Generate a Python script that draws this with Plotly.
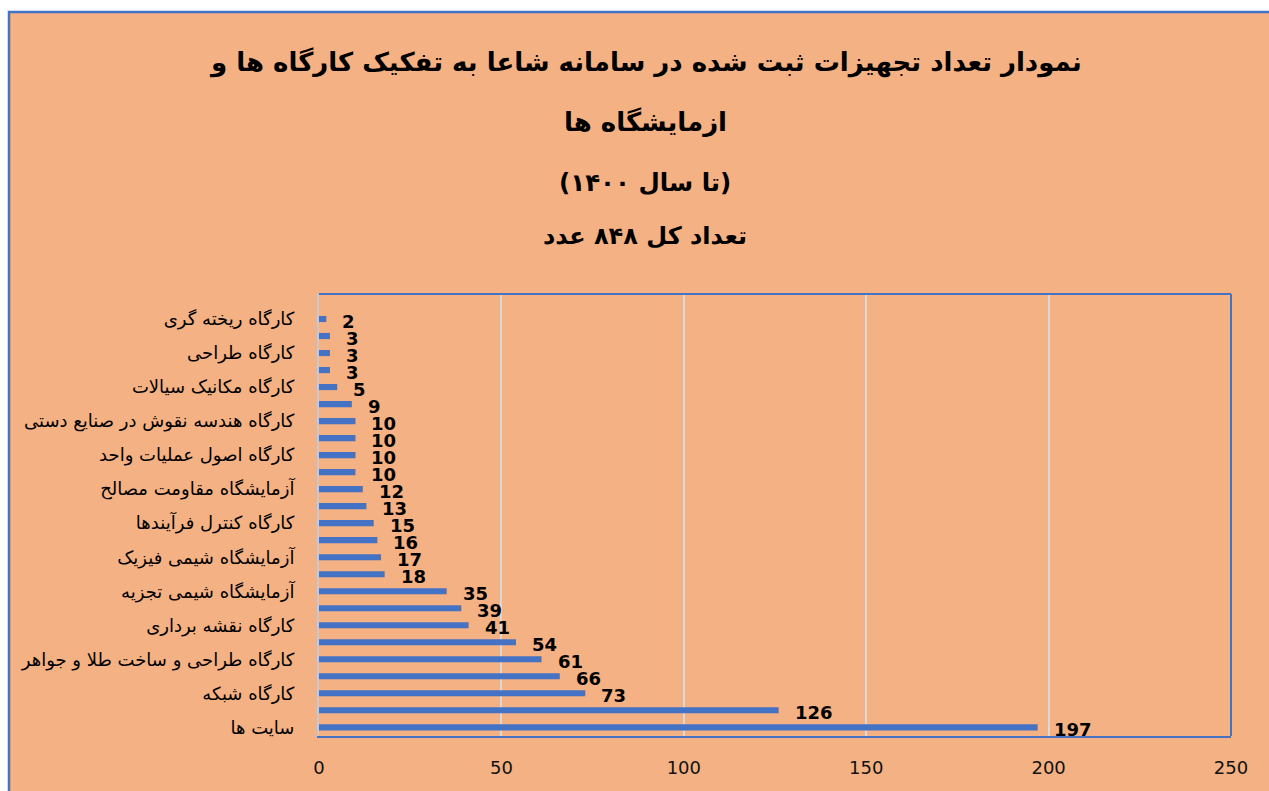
import plotly.graph_objects as go

# Data (bottom to top, as drawn); empty label = category whose tick label is skipped
labels = [
    "سایت ها", "", "کارگاه شبکه", "", "کارگاه طراحی و ساخت طلا و جواهر", "",
    "کارگاه نقشه برداری", "", "آزمایشگاه شیمی تجزیه", "", "آزمایشگاه شیمی فیزیک", "",
    "کارگاه کنترل فرآیندها", "", "آزمایشگاه مقاومت مصالح", "", "کارگاه اصول عملیات واحد", "",
    "کارگاه هندسه نقوش در صنایع دستی", "", "کارگاه مکانیک سیالات", "", "کارگاه طراحی", "",
    "کارگاه ریخته گری",
]
values = [197, 126, 73, 66, 61, 54, 41, 39, 35, 18, 17, 16, 15, 13, 12, 10, 10, 10, 10, 9, 5, 3, 3, 3, 2]
x_ticks = [0, 50, 100, 150, 200, 250]
title_lines = [
    "نمودار تعداد تجهیزات ثبت شده در سامانه شاعا به تفکیک کارگاه ها و",
    "ازمایشگاه ها",
    "(تا سال ۱۴۰۰)",
    "تعداد کل ۸۴۸ عدد",
]

positions = list(range(len(values)))
tick_pos = [p for p, l in zip(positions, labels) if l]
tick_txt = [l for l in labels if l]

W, H = 1269, 791
L, R, T, B = 319, 1269 - 1231, 294, 791 - 736
pw, ph = W - L - R, H - T - B

def px_x(x):  # page pixel -> paper
    return (x - L) / pw

def px_y(y):
    return (H - B - y) / ph

ORANGE = "#F4B183"
BLUE = "#4472C4"
GRID = "#D9D9D9"
FONT = "DejaVu Sans"

fig = go.Figure()
fig.add_trace(go.Bar(
    x=values, y=positions, orientation="h",
    marker=dict(color=BLUE, line=dict(width=0)),
    width=0.36, hoverinfo="x",
))

for v, p in zip(values, positions):
    fig.add_annotation(
        x=v, y=p, xref="x", yref="y", text=str(v), showarrow=False,
        xanchor="left", yanchor="middle", xshift=14, yshift=-2,
        font=dict(family=FONT, size=18, color="black", weight="bold"),
    )

title_y = [62, 122, 182, 236]
title_sizes = [26, 26, 24.5, 24]
for t, yy, s in zip(title_lines, title_y, title_sizes):
    fig.add_annotation(
        x=px_x(645), y=px_y(yy), xref="paper", yref="paper", text="<b>" + t + "</b>",
        showarrow=False, xanchor="center", yanchor="middle",
        font=dict(family=FONT, size=s, color="black"),
    )

# chart area background with blue border
fig.add_shape(type="rect", xref="paper", yref="paper",
              x0=px_x(9), x1=px_x(1300), y0=px_y(820), y1=px_y(12),
              fillcolor=ORANGE, line=dict(color=BLUE, width=2.5), layer="below")
# plot area border: top and right blue
fig.add_shape(type="line", xref="paper", yref="paper", x0=0, x1=1, y0=1, y1=1,
              line=dict(color=BLUE, width=2))
fig.add_shape(type="line", xref="paper", yref="paper", x0=1, x1=1, y0=0, y1=1,
              line=dict(color=BLUE, width=2))

fig.update_layout(
    width=W, height=H,
    margin=dict(l=L, r=R, t=T, b=B, pad=0, autoexpand=False),
    paper_bgcolor="white", plot_bgcolor="rgba(0,0,0,0)",
    showlegend=False, bargap=0.64,
    font=dict(family=FONT, color="black"),
    xaxis=dict(
        range=[0, 250], tickvals=x_ticks, ticktext=[str(t) for t in x_ticks],
        showgrid=True, gridcolor=GRID, gridwidth=1.5, zeroline=False,
        showline=True, linecolor=BLUE, linewidth=2, automargin=False,
        ticks="", ticklabelstandoff=14,
        tickfont=dict(family=FONT, size=18, color="#111111"),
    ),
    yaxis=dict(
        range=[-0.51, 25.47], tickvals=tick_pos, ticktext=tick_txt,
        showgrid=False, zeroline=False, automargin=False,
        showline=True, linecolor="#C8C8D0", linewidth=2,
        ticks="", ticklabelstandoff=19,
        tickfont=dict(family=FONT, size=18, color="black"),
    ),
)

fig.write_html(
    "out.html",
    config={"displayModeBar": False},
    post_script="document.body.style.margin='0';document.body.style.overflow='hidden';",
)
